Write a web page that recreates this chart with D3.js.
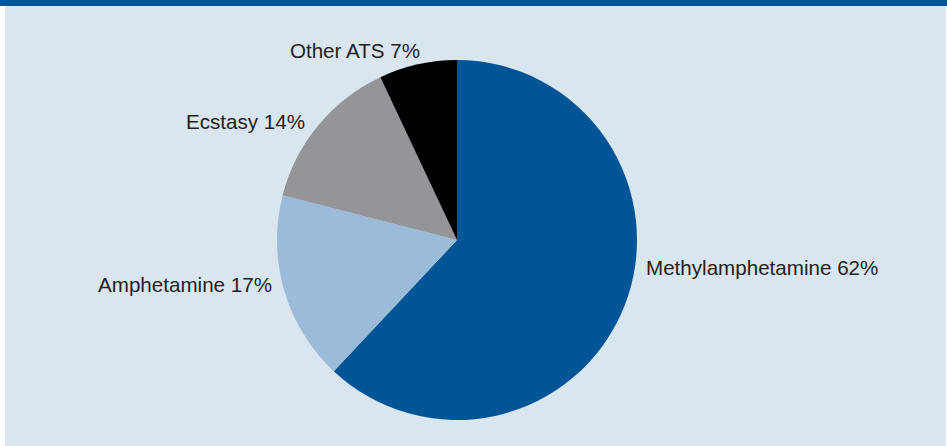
<!DOCTYPE html>
<html>
<head>
<meta charset="utf-8">
<script src="https://cdn.jsdelivr.net/npm/d3@7"></script>
<style>
  html, body { margin: 0; padding: 0; background: #ffffff; }
  svg { display: block; }
  text { font-family: "Liberation Sans", Arial, Helvetica, sans-serif; }
</style>
</head>
<body>
<svg id="chart" width="947" height="446"></svg>
<script>
// Share of amphetamine-type stimulants, by type (%)
const categories = ["Methylamphetamine", "Amphetamine", "Ecstasy", "Other ATS"];
const shares = [62, 17, 14, 7];
const sliceColors = ["#005596", "#9bbbd8", "#949598", "#000000"];

// Label anchors: text-anchor, x, baseline y
const labelLayout = [
  { anchor: "start", x: 646, y: 275 },
  { anchor: "end",   x: 272, y: 292 },
  { anchor: "end",   x: 305, y: 129 },
  { anchor: "end",   x: 420, y: 58 }
];

const W = 947, H = 446;
const cx = 457, cy = 240, radius = 180;

const svg = d3.select("#chart");

// panel background and header rule
svg.append("rect").attr("x", 5).attr("y", 0).attr("width", W - 6).attr("height", H)
  .attr("fill", "#d9e5ef");
svg.append("rect").attr("x", 0).attr("y", 0).attr("width", W).attr("height", 6)
  .attr("fill", "#005596");

const data = categories.map((c, i) => ({ name: c, value: shares[i], color: sliceColors[i] }));

const pie = d3.pie().value(d => d.value).sort(null);
const arc = d3.arc().innerRadius(0).outerRadius(radius);

const g = svg.append("g").attr("transform", `translate(${cx},${cy})`);
g.selectAll("path.slice")
  .data(pie(data))
  .join("path")
  .attr("class", "slice")
  .attr("d", arc)
  .attr("fill", d => d.data.color);

svg.selectAll("text.label")
  .data(data)
  .join("text")
  .attr("class", "label")
  .attr("x", (d, i) => labelLayout[i].x)
  .attr("y", (d, i) => labelLayout[i].y)
  .attr("text-anchor", (d, i) => labelLayout[i].anchor)
  .attr("font-size", "20.6px")
  .attr("fill", "#231f20")
  .text(d => `${d.name} ${d.value}%`);
</script>
</body>
</html>
